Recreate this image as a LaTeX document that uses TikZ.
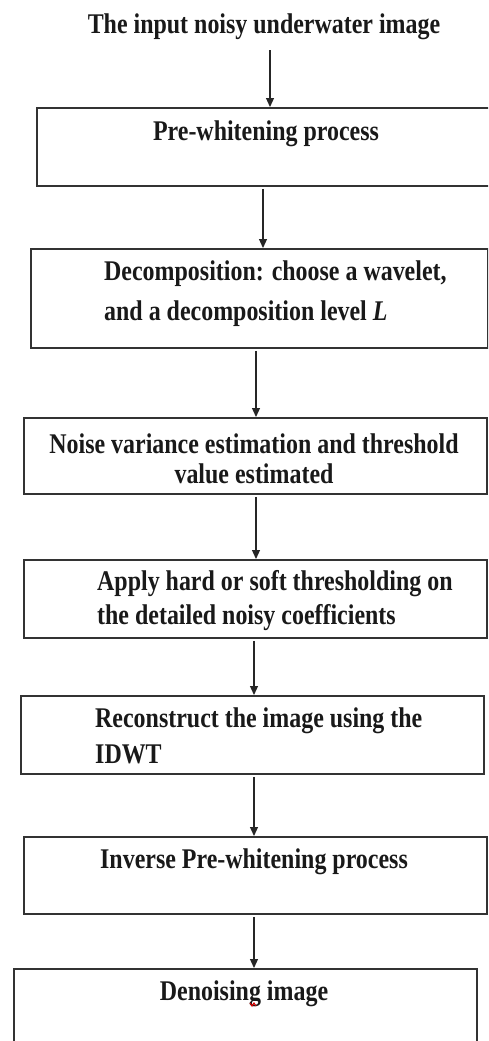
\documentclass[tikz,border=0pt]{standalone}
\usepackage{fontspec}
\setmainfont{Liberation Serif}[FakeStretch=0.84]
\usetikzlibrary{arrows.meta}
\tikzset{
  box/.style={draw=black!80, line width=1.8pt, rectangle, inner sep=0pt, anchor=north west},
  lbl/.style={font=\fontsize{28.5}{40}\selectfont\bfseries, inner sep=0pt, text=black!90},
  arr/.style={draw=black!85, line width=1.2pt, -{Triangle[length=9pt,width=8pt]}, shorten <=2pt}
}
\begin{document}
\begin{tikzpicture}[x=1pt,y=-1pt]
\useasboundingbox (0,0) rectangle (488,1041);
\clip (0,0) rectangle (488,1041);
% boxes
\node[box, minimum width=520pt, minimum height=78pt] (b1) at (36,107) {};
\node[box, minimum width=457pt, minimum height=99pt] (b2) at (30,248) {};
\node[box, minimum width=463pt, minimum height=76pt] (b3) at (23,417) {};
\node[box, minimum width=463pt, minimum height=78pt] (b4) at (23,559) {};
\node[box, minimum width=463pt, minimum height=78pt] (b5) at (20,695) {};
\node[box, minimum width=463pt, minimum height=77pt] (b6) at (23,836) {};
\node[box, minimum width=463pt, minimum height=100pt] (b7) at (13,968) {};
% texts
\node[lbl, anchor=base] (t0) at (264,34) {The input noisy underwater image};
\node[lbl, anchor=base] (t1) at (266,140) {Pre-whitening process};
\node[lbl, anchor=base west] (t2a) at (104,280) {Decomposition: choose a wavelet,};
\node[lbl, anchor=base west] (t2b) at (104,320) {and a decomposition level \textit{L}};
\node[lbl, anchor=base] (t3a) at (254,453) {Noise variance estimation and threshold};
\node[lbl, anchor=base] (t3b) at (254,483) {value estimated};
\node[lbl, anchor=base west] (t4a) at (97,590) {Apply hard or soft thresholding on};
\node[lbl, anchor=base west] (t4b) at (97,624) {the detailed noisy coefficients};
\node[lbl, anchor=base west] (t5a) at (95,727) {Reconstruct the image using the};
\node[lbl, anchor=base west] (t5b) at (95,763) {IDWT};
\node[lbl, anchor=base] (t6) at (254,868) {Inverse Pre-whitening process};
\node[lbl, anchor=base] (t7) at (244,1000) {Denoising image};
% red spell mark
\draw[red!85!black, line width=1.1pt] (250,1003) -- (252,1006) -- (254,1003) -- (256,1006);
% arrows
\draw[arr] (t0.south -| 270,0) ++(0,8) -- (b1.north -| 270,0);
\draw[arr] (b1.south -| 263,0) -- (b2.north -| 263,0);
\draw[arr] (b2.south -| 256,0) -- (b3.north -| 256,0);
\draw[arr] (b3.south -| 256,0) -- (b4.north -| 256,0);
\draw[arr] (b4.south -| 254,0) -- (b5.north -| 254,0);
\draw[arr] (b5.south -| 254,0) -- (b6.north -| 254,0);
\draw[arr] (b6.south -| 254,0) -- (b7.north -| 254,0);
\end{tikzpicture}
\end{document}
